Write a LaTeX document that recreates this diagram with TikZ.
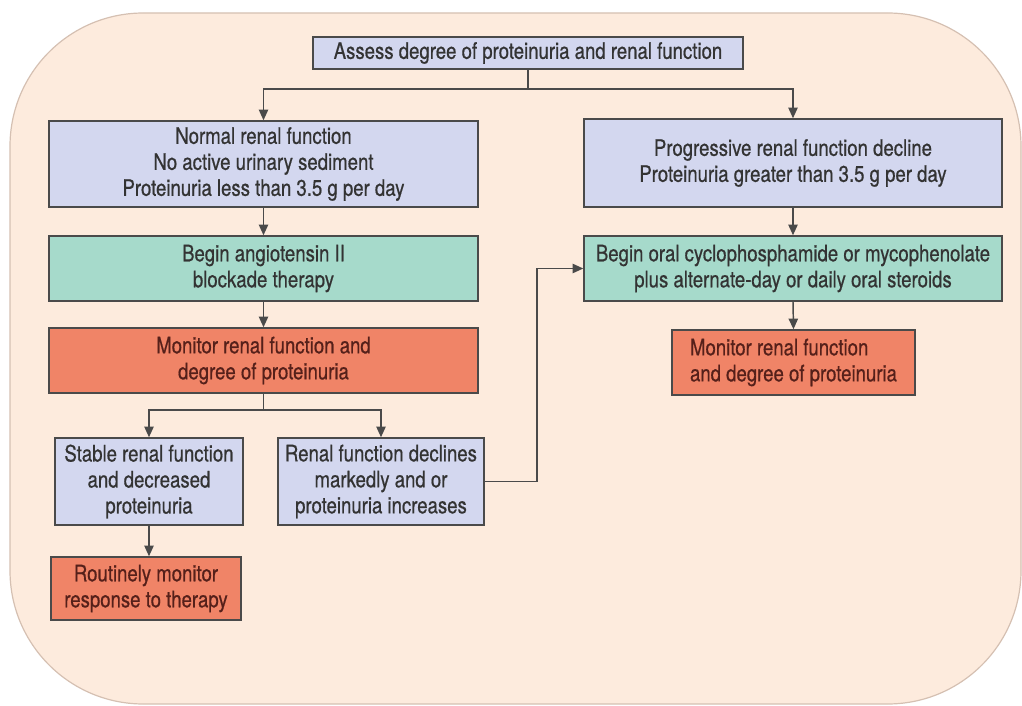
\documentclass[tikz,border=0pt]{standalone}
\usepackage{fontspec}
\setmainfont[FakeStretch=0.82, FakeBold=0.6]{TeX Gyre Heros}
\usetikzlibrary{arrows.meta}
\definecolor{panel}{HTML}{FDEBDD}
\definecolor{panelline}{HTML}{D5C0B2}
\definecolor{lav}{HTML}{D3D7EF}
\definecolor{mint}{HTML}{A6DACB}
\definecolor{salmon}{HTML}{F08467}
\definecolor{edge}{HTML}{4A4A4A}
\definecolor{ink}{HTML}{333333}
\definecolor{redink}{HTML}{55201A}
\tikzset{
  box/.style={draw=edge, line width=1.1pt, inner sep=2pt, align=center,
    text=ink, font=\fontsize{17}{19.5}\selectfont},
  lavbox/.style={box, fill=lav},
  mintbox/.style={box, fill=mint},
  salbox/.style={box, fill=salmon, text=redink},
  arr/.style={draw=edge, line width=1.1pt, -{Triangle[length=8pt,width=7pt]}},
  plain/.style={draw=edge, line width=1.1pt}
}
\begin{document}
\begin{tikzpicture}[x=0.75pt, y=-0.75pt]
\useasboundingbox (0,0) rectangle (1022,706);
% rounded panel behind the chart
\draw[fill=panel, draw=panelline, line width=0.9pt, rounded corners=100pt]
  (10,13) rectangle (1021,704);

% top assessment
\node[lavbox, minimum width=430*0.75pt, minimum height=32*0.75pt] (top) at (528,53)
  {Assess degree of proteinuria and renal function};

% left column
\node[lavbox, minimum width=429*0.75pt, minimum height=86*0.75pt] (n1) at (263.5,164)
  {Normal renal function\\No active urinary sediment\\Proteinuria less than 3.5 g per day};
\node[mintbox, minimum width=429*0.75pt, minimum height=65*0.75pt] (g1) at (263.5,268.5)
  {Begin angiotensin II\\blockade therapy};
\node[salbox, minimum width=429*0.75pt, minimum height=65*0.75pt] (o1) at (263.5,360.5)
  {Monitor renal function and\\degree of proteinuria};
\node[lavbox, minimum width=188*0.75pt, minimum height=87*0.75pt] (s1) at (149,481.5)
  {Stable renal function\\and decreased\\proteinuria};
\node[lavbox, minimum width=206*0.75pt, minimum height=87*0.75pt] (d1) at (381,481.5)
  {Renal function declines\\markedly and or\\proteinuria increases};
\node[salbox, minimum width=190*0.75pt, minimum height=63*0.75pt] (r1) at (146,588.5)
  {Routinely monitor\\response to therapy};

% right column
\node[lavbox, minimum width=418*0.75pt, minimum height=88*0.75pt] (p1) at (793,163)
  {Progressive renal function decline\\Proteinuria greater than 3.5 g per day};
\node[mintbox, minimum width=418*0.75pt, minimum height=65*0.75pt] (g2) at (793,268.5)
  {Begin oral cyclophosphamide or mycophenolate\\plus alternate-day or daily oral steroids};
\node[salbox, minimum width=243*0.75pt, minimum height=65*0.75pt, align=left] (o2) at (793.5,362.5)
  {Monitor renal function\\and degree of proteinuria};

% connectors
\coordinate (split1) at (528,89);
\draw[plain] (top.south) -- (split1);
\draw[arr] (split1) -| (n1.north);
\draw[arr] (split1) -| (p1.north);
\draw[arr] (n1.south) -- (g1.north);
\draw[arr] (g1.south) -- (o1.north);
\coordinate (split2) at (263.5,410);
\draw[plain] (o1.south) -- (split2);
\draw[arr] (split2) -| (s1.north);
\draw[arr] (split2) -| (d1.north);
\draw[arr] (s1.south) -- (r1.north -| s1.south);
\coordinate (bend) at (537,481.5);
\draw[arr] (d1.east) -- (bend) |- (g2.west);
\draw[arr] (p1.south) -- (g2.north);
\draw[arr] (g2.south) -- (o2.north);
\end{tikzpicture}
\end{document}
